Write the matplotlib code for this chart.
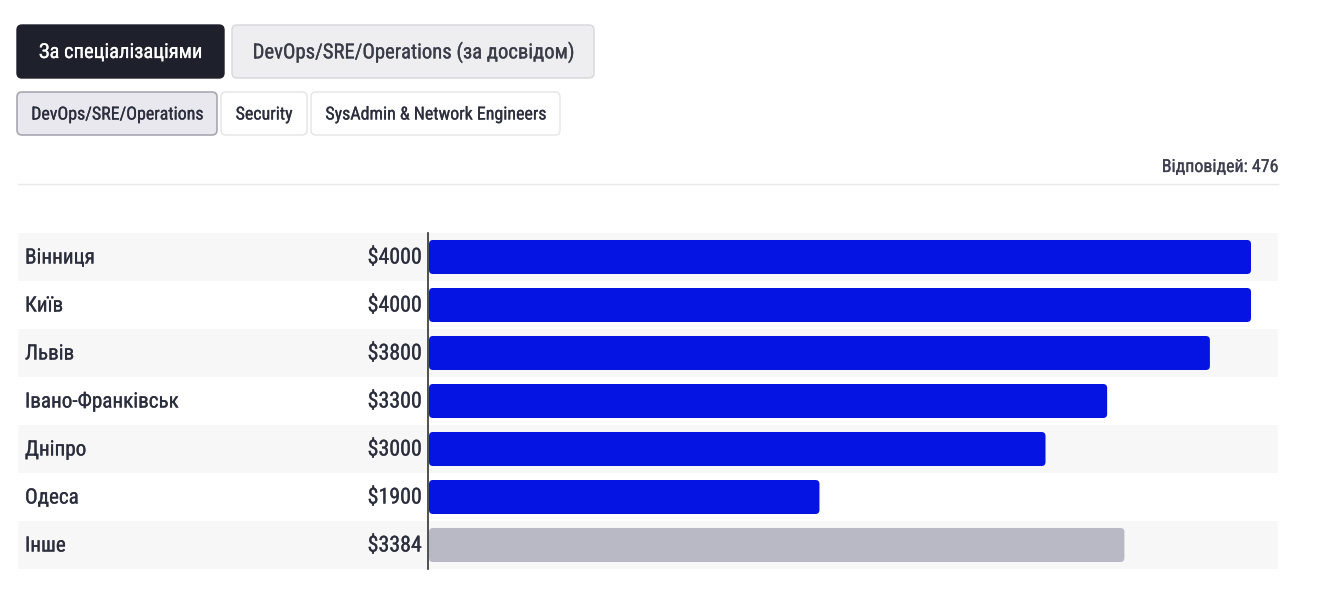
import matplotlib
matplotlib.use("Agg")
import matplotlib.pyplot as plt
import matplotlib.patheffects as pe
from matplotlib.patches import FancyBboxPatch, Rectangle
from matplotlib.lines import Line2D

plt.rcParams['font.family'] = ['Roboto Condensed', 'Roboto', 'DejaVu Sans']

cities = ["Вінниця", "Київ", "Львів", "Івано-Франківськ", "Дніпро", "Одеса", "Інше"]
salaries = [4000, 4000, 3800, 3300, 3000, 1900, 3384]
is_other = [False, False, False, False, False, False, True]
value_labels = ["$4000", "$4000", "$3800", "$3300", "$3000", "$1900", "$3384"]

top_tabs = ["За спеціалізаціями", "DevOps/SRE/Operations (за досвідом)"]
sub_tabs = ["DevOps/SRE/Operations", "Security", "SysAdmin & Network Engineers"]
responses_label = "Відповідей: 476"

W, H = 1338, 605
fig = plt.figure(figsize=(W / 100, H / 100), dpi=100)
fig.patch.set_facecolor("white")

# overlay axes in pixel coordinates
ov = fig.add_axes([0, 0, 1, 1])
ov.set_xlim(0, W)
ov.set_ylim(H, 0)
ov.axis("off")

txt = "#2b2e3d"

def med(color):
    return [pe.withStroke(linewidth=0.18, foreground=color)]

def button(x0, x1, y0, y1, face, edge, text, tcolor, fs, lw=1.0):
    ov.add_patch(FancyBboxPatch((x0, y0), x1 - x0, y1 - y0,
                                boxstyle="round,pad=0,rounding_size=5",
                                facecolor=face, edgecolor=edge, linewidth=lw))
    ov.text((x0 + x1) / 2, (y0 + y1) / 2 + 1, text, color=tcolor, fontsize=fs,
            ha="center", va="center", path_effects=med(tcolor))

button(17, 224, 25, 78, "#1e202c", "#1e202c", top_tabs[0], "white", 14.8)
button(232, 594, 25, 78, "#eeeef1", "#d6d6dc", top_tabs[1], "#3a3c48", 14.9)
button(17, 217, 92, 135, "#e8e8ee", "#a8a8b2", sub_tabs[0], "#2b2e3d", 12.9, 1.2)
button(221, 307, 92, 135, "white", "#e4e4e8", sub_tabs[1], "#2b2e3d", 12.9)
button(311, 560, 92, 135, "white", "#e4e4e8", sub_tabs[2], "#2b2e3d", 12.9)

ov.text(1278, 167, responses_label, color="#3e4050", fontsize=12.9, ha="right", va="center",
        path_effects=med("#3e4050"))
ov.add_line(Line2D([18, 1278], [184, 184], color="#e8e8ea", linewidth=1))

# main bar axes: x from 429 px to 1278 px, y from 233 to 569 px
ax_left, ax_right = 429, 1278
ax_top, ax_bot = 233, 569
ax = fig.add_axes([ax_left / W, 1 - ax_bot / H, (ax_right - ax_left) / W, (ax_bot - ax_top) / H])
ax.set_zorder(2)
ax.patch.set_alpha(0)
px_per_unit = 822 / 4000.0
ax.set_xlim(0, (ax_right - ax_left) / px_per_unit)
n = len(cities)
ax.set_ylim(n - 0.5, -0.5)
ax.axis("off")

# stripes (drawn in overlay, behind)
row_h = (ax_bot - ax_top) / n
for i in range(n):
    if i % 2 == 0:
        ov.add_patch(Rectangle((18, ax_top + i * row_h), 1278 - 18, row_h,
                               facecolor="#f7f7f7", edgecolor="none", zorder=0))

bar_h = 34 / row_h
x_unit_per_px = 1 / px_per_unit
y_unit_per_px = 1 / row_h
r_px = 4
for i, (v, other) in enumerate(zip(salaries, is_other)):
    color = "#b9b9c6" if other else "#0514e2"
    ax.add_patch(FancyBboxPatch((0, i - bar_h / 2), v, bar_h,
                                boxstyle=f"round,pad=0,rounding_size={r_px * x_unit_per_px}",
                                mutation_aspect=y_unit_per_px / x_unit_per_px,
                                facecolor=color, edgecolor="none"))

# axis line
ov.add_line(Line2D([427.5, 427.5], [ax_top, ax_bot], color="#333333", linewidth=1.2, zorder=3))

for i, (c, lab) in enumerate(zip(cities, value_labels)):
    yc = ax_top + (i + 0.5) * row_h + 1
    ov.text(25, yc, c, color=txt, fontsize=15.2, ha="left", va="center", path_effects=med(txt))
    ov.text(422, yc, lab, color=txt, fontsize=15.8, ha="right", va="center", path_effects=med(txt))

fig.savefig("out.png", dpi=100, facecolor="white")
